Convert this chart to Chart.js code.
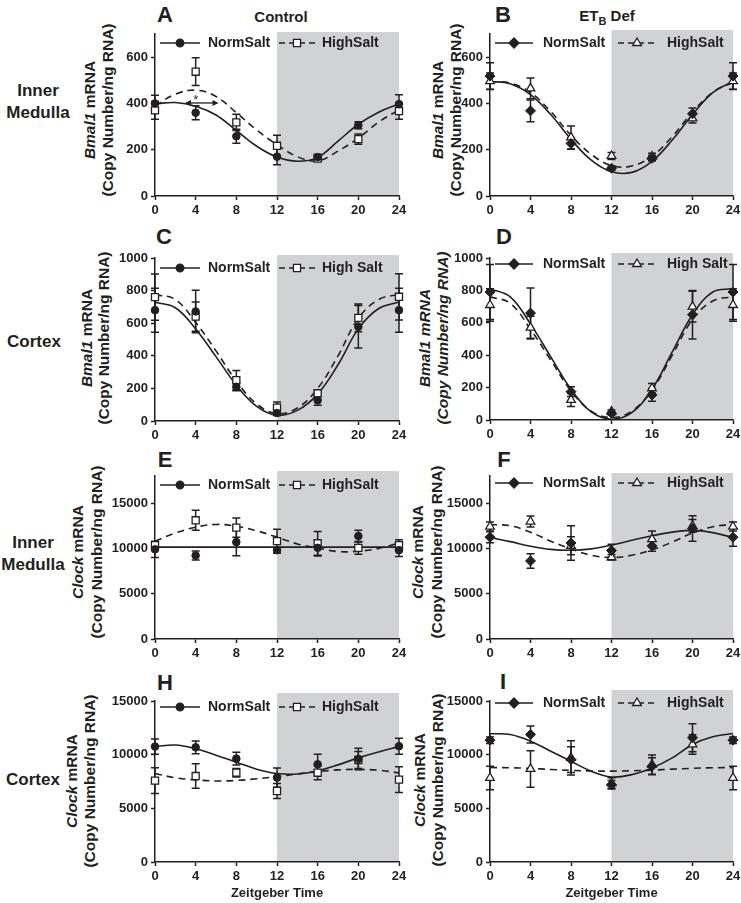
<!DOCTYPE html>
<html>
<head>
<meta charset="utf-8">
<script src="https://cdn.jsdelivr.net/npm/chart.js@4.4.1/dist/chart.umd.min.js"></script>
<style>
    body { margin: 0; background: #fff; }
    #fig { position: relative; width: 741px; height: 903px; overflow: hidden;
           font-family: "Liberation Sans", Arial, sans-serif; color: #231f20; }
    #fig canvas { position: absolute; }
    .lbl { position: absolute; font-weight: bold; white-space: nowrap; transform: translate(-50%, -50%); }
    .letter { font-size: 22px; }
    .head { font-size: 15px; }
    .row { font-size: 17px; text-align: center; line-height: 22px; }
    .ytitle { position: absolute; font-weight: bold; font-size: 15.5px; white-space: nowrap;
              transform: translate(-50%, -50%) rotate(-90deg); }
</style>
</head>
<body>
<div id="fig"></div>
<script>
// Sampling times (Zeitgeber time) and tick labels
const hours = [0, 4, 8, 12, 16, 20, 24];
const fitHours = [0, 2, 4, 6, 8, 10, 12, 14, 16, 18, 20, 22, 24];
const xTicks = [0, 4, 8, 12, 16, 20, 24];
const imBmalTicks = [0, 200, 400, 600];
const cxBmalTicks = [0, 200, 400, 600, 800, 1000];
const clockTicks = [0, 5000, 10000, 15000];
const darkPhase = [12, 24];

// A - Bmal1, inner medulla, control
const aNormMean = [400, 360, 258, 170, 168, 306, 397];
const aNormSem = [35, 30, 30, 35, 12, 15, 40];
const aHighMean = [370, 537, 318, 217, 162, 246, 367];
const aHighSem = [38, 60, 35, 45, 12, 22, 35];
const aNormFit = [398, 404, 388, 350, 283, 215, 168, 150, 167, 237, 310, 362, 398];
const aHighFit = [390, 440, 457, 430, 360, 285, 222, 170, 152, 194, 250, 319, 372];

// B - Bmal1, inner medulla, ETB def
const bNormMean = [518, 368, 227, 120, 163, 355, 518];
const bNormSem = [58, 47, 25, 10, 12, 25, 58];
const bHighMean = [496, 465, 253, 173, 170, 335, 496];
const bHighSem = [35, 45, 50, 15, 15, 20, 35];
const bNormFit = [495, 485, 438, 352, 245, 155, 105, 102, 150, 242, 352, 447, 495];
const bHighFit = [495, 488, 447, 365, 262, 180, 132, 130, 172, 257, 362, 448, 492];

// C - Bmal1, cortex, control
const cNormMean = [680, 672, 210, 49, 127, 578, 680];
const cNormSem = [135, 130, 25, 15, 30, 130, 135];
const cHighMean = [760, 640, 250, 82, 170, 633, 762];
const cHighSem = [142, 90, 60, 35, 20, 85, 142];
const cNormFit = [728, 695, 565, 395, 220, 90, 35, 65, 165, 345, 565, 690, 730];
const cHighFit = [775, 745, 605, 430, 245, 105, 45, 80, 200, 400, 630, 745, 778];

// D - Bmal1, cortex, ETB def
const dNormMean = [790, 660, 175, 41, 155, 650, 790];
const dNormSem = [170, 155, 30, 10, 40, 150, 170];
const dHighMean = [710, 570, 124, 52, 196, 700, 710];
const dHighSem = [100, 70, 40, 10, 30, 95, 100];
const dNormFit = [810, 760, 592, 390, 190, 50, 5, 45, 190, 420, 650, 790, 810];
const dHighFit = [760, 720, 560, 370, 180, 55, 15, 55, 185, 400, 620, 735, 760];

// E - Clock, inner medulla, control
const eNormMean = [9900, 9220, 10700, 9810, 10070, 11370, 9810];
const eNormSem = [900, 500, 1500, 300, 900, 650, 700];
const eHighMean = [10370, 13110, 12300, 10810, 10560, 10070, 10360];
const eHighSem = [350, 1100, 1050, 1300, 1300, 700, 600];
const eNormFit = [10150, 10150, 10150, 10150, 10150, 10150, 10150, 10150, 10150, 10150, 10150, 10150, 10150];
const eHighFit = [10800, 11700, 12350, 12650, 12450, 11950, 11250, 10500, 10050, 9650, 9700, 10000, 10600];

// F - Clock, inner medulla, ETB def
const fNormMean = [11240, 8625, 10600, 9770, 10280, 12200, 11240];
const fNormSem = [600, 800, 1900, 700, 600, 1400, 1000];
const fHighMean = [12420, 12970, 10300, 9030, 11020, 12500, 12420];
const fHighSem = [500, 600, 1000, 300, 900, 700, 500];
const fNormFit = [11200, 10750, 10250, 9900, 9800, 9950, 10350, 10900, 11400, 11800, 12000, 11750, 11200];
const fHighFit = [12650, 12500, 11800, 10800, 9950, 9250, 9000, 9250, 9850, 10700, 11700, 12400, 12650];

// H - Clock, cortex, control
const hNormMean = [10750, 10680, 9630, 7860, 9100, 9600, 10790];
const hNormSem = [700, 600, 600, 900, 950, 1000, 750];
const hHighMean = [7580, 8010, 8320, 6615, 8320, 9500, 7670];
const hHighSem = [1200, 1150, 400, 700, 650, 800, 1200];
const hNormFit = [10750, 10900, 10550, 9950, 9300, 8650, 8250, 8200, 8500, 9050, 9700, 10250, 10750];
const hHighFit = [8250, 7850, 7650, 7550, 7600, 7750, 7950, 8200, 8420, 8580, 8630, 8550, 8300];

// I - Clock, cortex, ETB def
const iNormMean = [11350, 11880, 9540, 7200, 8920, 11570, 11350];
const iNormSem = [300, 800, 1200, 400, 800, 1300, 300];
const iHighMean = [7830, 8670, 9700, 7360, 9070, 10950, 7830];
const iHighSem = [1100, 1700, 1600, 500, 900, 900, 1100];
const iNormFit = [11950, 11880, 11260, 10320, 9390, 8450, 7920, 8140, 8760, 9700, 10950, 11660, 11970];
const iHighFit = [8800, 8780, 8720, 8620, 8530, 8480, 8470, 8500, 8560, 8650, 8730, 8780, 8800];

const ink = '#231f20';
const band = '#d1d2d4';
const fontFamily = '"Liberation Sans", Arial, sans-serif';

Chart.defaults.font.family = fontFamily;
Chart.defaults.color = ink;

// Panel frames (plot area in page pixels) and per-panel options
const panels = [
    { l: 155, r: 399, t: 34, b: 196, yMax: 700, yTicks: imBmalTicks, col: 0, bandPad: 2, legendY: 9, highLabel: 'HighSalt',
      norm: [aNormMean, aNormSem, aNormFit], high: [aHighMean, aHighSem, aHighFit], star: true },
    { l: 490, r: 733, t: 34, b: 196, yMax: 700, yTicks: imBmalTicks, col: 1, bandPad: 4, legendY: 9, highLabel: 'HighSalt',
      norm: [bNormMean, bNormSem, bNormFit], high: [bHighMean, bHighSem, bHighFit] },
    { l: 155, r: 399, t: 258, b: 421, yMax: 1000, yTicks: cxBmalTicks, col: 0, bandPad: 3, legendY: 10, highLabel: 'High Salt',
      norm: [cNormMean, cNormSem, cNormFit], high: [cHighMean, cHighSem, cHighFit] },
    { l: 490, r: 733, t: 258, b: 420, yMax: 1000, yTicks: cxBmalTicks, col: 1, bandPad: 5, legendY: 6, highLabel: 'High Salt',
      norm: [dNormMean, dNormSem, dNormFit], high: [dHighMean, dHighSem, dHighFit] },
    { l: 155, r: 399, t: 476, b: 639, yMax: 18000, yTicks: clockTicks, col: 0, bandPad: 5, legendY: 9, highLabel: 'HighSalt',
      norm: [eNormMean, eNormSem, eNormFit], high: [eHighMean, eHighSem, eHighFit] },
    { l: 490, r: 733, t: 476, b: 639, yMax: 18000, yTicks: clockTicks, col: 1, bandPad: 3, legendY: 7, highLabel: 'HighSalt',
      norm: [fNormMean, fNormSem, fNormFit], high: [fHighMean, fHighSem, fHighFit] },
    { l: 155, r: 399, t: 701, b: 862, yMax: 15000, yTicks: clockTicks, col: 0, bandPad: 8, legendY: 6, highLabel: 'HighSalt',
      norm: [hNormMean, hNormSem, hNormFit], high: [hHighMean, hHighSem, hHighFit], xTitle: true },
    { l: 490, r: 733, t: 701, b: 862, yMax: 15000, yTicks: clockTicks, col: 1, bandPad: 11, legendY: 2, highLabel: 'HighSalt',
      norm: [iNormMean, iNormSem, iNormFit], high: [iHighMean, iHighSem, iHighFit], xTitle: true }
];

const legendLayout = [
    { normLine: [5, 45], normMark: 25, normText: 53, highLine: [124, 160], highMark: 142, highText: 167 },
    { normLine: [5, 43], normMark: 24, normText: 53, highLine: [128, 167], highMark: 147, highText: 177 }
];
const markerStyle = [
    { norm: 'circle', normR: 3.8, high: 'rect', highR: 5 },
    { norm: 'rectRot', normR: 5, high: 'triangle', highR: 5 }
];

// Text labels around the panels
const labels = [
    ['letter', 'A', 165, 15], ['letter', 'B', 503, 15], ['letter', 'C', 164, 237], ['letter', 'D', 504, 237],
    ['letter', 'E', 165, 460], ['letter', 'F', 504, 460], ['letter', 'H', 165, 683], ['letter', 'I', 503, 682],
    ['head', 'Control', 281, 16], ['head', 'ET<sub style="font-size:11px">B</sub> Def', 607, 17],
    ['row', 'Inner<br>Medulla', 38, 102], ['row', 'Cortex', 34, 342],
    ['row', 'Inner<br>Medulla', 33, 554], ['row', 'Cortex', 33, 780]
];
const yTitles = [
    ['<i>Bmal1</i> mRNA', '(Copy Number/ng RNA)', 90, 108, 110],
    ['<i>Bmal1</i> mRNA', '(Copy Number/ng RNA)', 438, 456, 110],
    ['<i>Bmal1</i> mRNA', '(Copy Number/ng RNA)', 87, 104, 338],
    ['<i>Bmal1 mRNA</i>', '<i>(Copy Number/ng RNA)</i>', 425, 443, 338],
    ['<i>Clock</i> mRNA', '(Copy Number/ng RNA)', 78, 97, 552],
    ['<i>Clock</i> mRNA', '(Copy Number/ng RNA)', 418, 437, 552],
    ['<i>Clock</i> mRNA', '(Copy Number/ng RNA)', 72, 90, 781],
    ['<i>Clock</i> mRNA', '(Copy Number/ng RNA)', 420, 438, 780]
];

function toXY(xs, ys) {
    return xs.map((x, i) => ({ x, y: ys[i] }));
}

function drawMarker(ctx, style, x, y, r, fill) {
    ctx.beginPath();
    if (style === 'circle') {
        ctx.arc(x, y, r, 0, Math.PI * 2);
    } else if (style === 'rect') {
        const s = r * Math.SQRT1_2;
        ctx.rect(x - s, y - s, 2 * s, 2 * s);
    } else if (style === 'rectRot') {
        ctx.moveTo(x, y - r); ctx.lineTo(x + r, y); ctx.lineTo(x, y + r); ctx.lineTo(x - r, y);
        ctx.closePath();
    } else {
        ctx.moveTo(x, y - r);
        ctx.lineTo(x + 0.866 * r, y + 0.5 * r);
        ctx.lineTo(x - 0.866 * r, y + 0.5 * r);
        ctx.closePath();
    }
    ctx.fillStyle = fill;
    ctx.fill();
    ctx.lineWidth = 1.3;
    ctx.strokeStyle = ink;
    ctx.stroke();
}

function drawErrorBars(chart, mean, sem) {
    const { ctx, scales: { x, y } } = chart;
    ctx.save();
    ctx.strokeStyle = ink;
    ctx.lineWidth = 1.5;
    hours.forEach((h, i) => {
        const px = x.getPixelForValue(h);
        const top = y.getPixelForValue(mean[i] + sem[i]);
        const bot = y.getPixelForValue(mean[i] - sem[i]);
        ctx.beginPath();
        ctx.moveTo(px, top); ctx.lineTo(px, bot);
        ctx.moveTo(px - 4, top); ctx.lineTo(px + 4, top);
        ctx.moveTo(px - 4, bot); ctx.lineTo(px + 4, bot);
        ctx.stroke();
    });
    ctx.restore();
}

function drawLegend(chart, p) {
    const { ctx, chartArea: { left, top } } = chart;
    const L = legendLayout[p.col];
    const M = markerStyle[p.col];
    const y = top + p.legendY;
    ctx.save();
    ctx.strokeStyle = ink;
    ctx.lineWidth = 1.6;
    ctx.beginPath();
    ctx.moveTo(left + L.normLine[0], y); ctx.lineTo(left + L.normLine[1], y);
    ctx.stroke();
    ctx.setLineDash([6, 4]);
    ctx.beginPath();
    ctx.moveTo(left + L.highLine[0], y); ctx.lineTo(left + L.highLine[1], y);
    ctx.stroke();
    ctx.setLineDash([]);
    drawMarker(ctx, M.norm, left + L.normMark, y, M.normR, ink);
    drawMarker(ctx, M.high, left + L.highMark, y, M.highR, '#fff');
    ctx.fillStyle = ink;
    ctx.font = 'bold 14px ' + fontFamily;
    ctx.textBaseline = 'middle';
    ctx.fillText('NormSalt', left + L.normText, y);
    ctx.fillText(p.highLabel, left + L.highText, y);
    ctx.restore();
}

// Significance marker of panel A: double arrow with asterisk
function drawStar(chart) {
    const { ctx, scales: { x, y } } = chart;
    const x0 = x.getPixelForValue(2.95), x1 = x.getPixelForValue(6.25);
    const py = y.getPixelForValue(402);
    ctx.save();
    ctx.strokeStyle = ink; ctx.fillStyle = ink; ctx.lineWidth = 1.3;
    ctx.beginPath(); ctx.moveTo(x0 + 3, py); ctx.lineTo(x1 - 3, py); ctx.stroke();
    ctx.beginPath();
    ctx.moveTo(x0, py); ctx.lineTo(x0 + 6, py - 3); ctx.lineTo(x0 + 6, py + 3); ctx.closePath();
    ctx.moveTo(x1, py); ctx.lineTo(x1 - 6, py - 3); ctx.lineTo(x1 - 6, py + 3); ctx.closePath();
    ctx.fill();
    ctx.font = '13px ' + fontFamily;
    ctx.textAlign = 'center'; ctx.textBaseline = 'middle';
    ctx.fillText('*', x.getPixelForValue(4), y.getPixelForValue(415));
    ctx.restore();
}

function buildPanel(p) {
    const fig = document.getElementById('fig');
    const yW = 62, padTop = 16, padRight = 14;
    const xH = p.xTitle ? 39 : 24;
    const w = (p.r - p.l) + yW + padRight;
    const h = (p.b - p.t) + padTop + xH;
    const canvas = document.createElement('canvas');
    canvas.width = w;
    canvas.height = h;
    canvas.style.left = (p.l - yW) + 'px';
    canvas.style.top = (p.t - padTop) + 'px';
    canvas.style.width = w + 'px';
    canvas.style.height = h + 'px';
    fig.appendChild(canvas);

    const M = markerStyle[p.col];
    const tickFont = { size: 13, weight: 'bold' };
    const axisGrid = { display: true, drawOnChartArea: false, drawTicks: true, tickLength: 4, tickWidth: 1.5, tickColor: ink };
    const axisBorder = { display: true, color: ink, width: 1.5 };

    const extras = {
        id: 'extras',
        beforeDraw(chart) {
            const { ctx, chartArea: { top, bottom }, scales: { x } } = chart;
            const x0 = x.getPixelForValue(darkPhase[0]);
            const x1 = x.getPixelForValue(darkPhase[1]);
            ctx.save();
            ctx.fillStyle = band;
            ctx.fillRect(x0, top - p.bandPad, x1 - x0, bottom - top + p.bandPad);
            ctx.restore();
        },
        beforeDatasetsDraw(chart) {
            drawErrorBars(chart, p.high[0], p.high[1]);
            drawErrorBars(chart, p.norm[0], p.norm[1]);
        },
        afterDatasetsDraw(chart) {
            drawLegend(chart, p);
            if (p.star) drawStar(chart);
        }
    };

    new Chart(canvas, {
        type: 'line',
        data: {
            datasets: [
                { label: 'NormSalt', data: toXY(hours, p.norm[0]), showLine: false, pointStyle: M.norm,
                  pointRadius: M.normR, pointBackgroundColor: ink, pointBorderColor: ink, pointBorderWidth: 1,
                  order: 0, clip: false },
                { label: p.highLabel, data: toXY(hours, p.high[0]), showLine: false, pointStyle: M.high,
                  pointRadius: M.highR, pointBackgroundColor: '#fff', pointBorderColor: ink, pointBorderWidth: 1.3,
                  order: 1, clip: false },
                { label: 'NormSalt fit', data: toXY(fitHours, p.norm[2]), borderColor: ink, borderWidth: 1.6,
                  pointRadius: 0, tension: 0.4, order: 3, clip: false },
                { label: 'HighSalt fit', data: toXY(fitHours, p.high[2]), borderColor: ink, borderWidth: 1.6,
                  borderDash: [7, 5], pointRadius: 0, tension: 0.4, order: 2, clip: false }
            ]
        },
        options: {
            responsive: false,
            animation: false,
            devicePixelRatio: 1,
            events: [],
            layout: { padding: { top: padTop, right: padRight, left: 0, bottom: 0 } },
            plugins: { legend: { display: false }, tooltip: { enabled: false } },
            scales: {
                x: {
                    type: 'linear', min: 0, max: 24,
                    afterBuildTicks: s => { s.ticks = xTicks.map(v => ({ value: v })); },
                    afterFit: s => { s.height = xH; },
                    grid: axisGrid, border: axisBorder,
                    ticks: { color: ink, padding: 3, autoSkip: false, maxRotation: 0, font: tickFont, callback: v => String(v) },
                    title: { display: !!p.xTitle, text: 'Zeitgeber Time', color: ink, padding: 0, font: { size: 13, weight: 'bold' } }
                },
                y: {
                    type: 'linear', min: 0, max: p.yMax,
                    afterBuildTicks: s => { s.ticks = p.yTicks.map(v => ({ value: v })); },
                    afterFit: s => { s.width = yW; },
                    grid: axisGrid, border: axisBorder,
                    ticks: { color: ink, padding: 3, font: tickFont, callback: v => String(v) }
                }
            }
        },
        plugins: [extras]
    });
}

function addLabels() {
    const fig = document.getElementById('fig');
    labels.forEach(([cls, html, x, y]) => {
        const d = document.createElement('div');
        d.className = 'lbl ' + cls;
        d.innerHTML = html;
        d.style.left = x + 'px';
        d.style.top = y + 'px';
        fig.appendChild(d);
    });
    yTitles.forEach(([line1, line2, x1, x2, y]) => {
        [[line1, x1], [line2, x2]].forEach(([html, x]) => {
            const d = document.createElement('div');
            d.className = 'ytitle';
            d.innerHTML = html;
            d.style.left = x + 'px';
            d.style.top = y + 'px';
            fig.appendChild(d);
        });
    });
}

addLabels();
panels.forEach(buildPanel);
</script>
</body>
</html>
